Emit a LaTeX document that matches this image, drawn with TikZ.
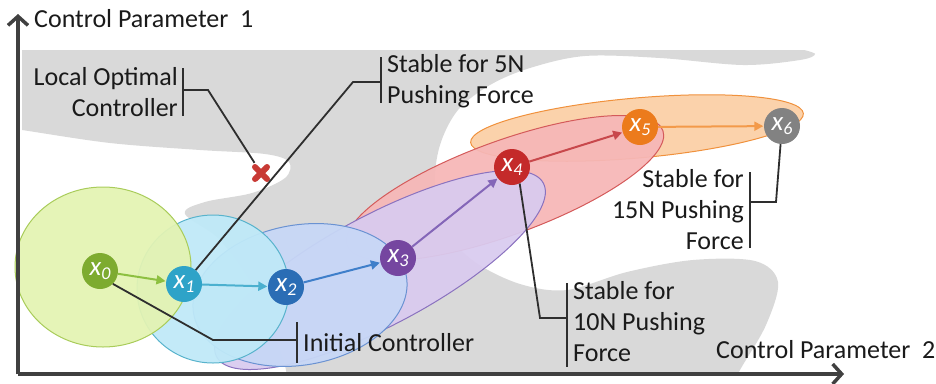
\documentclass[tikz,border=0pt]{standalone}
\usepackage{fontspec}
\setmainfont{Carlito}
\usetikzlibrary{arrows.meta}
\definecolor{bggray}{HTML}{D9D9D9}
\definecolor{axisgray}{HTML}{404040}
\definecolor{txt}{HTML}{1A1A1A}
\definecolor{n0}{HTML}{7DAB2F}\definecolor{a0}{HTML}{8DC040}
\definecolor{n1}{HTML}{2EA3C8}\definecolor{a1}{HTML}{4BB0CF}
\definecolor{n2}{HTML}{2A6DB5}\definecolor{a2}{HTML}{3F7FCA}
\definecolor{n3}{HTML}{7546A0}\definecolor{a3}{HTML}{8466B8}
\definecolor{n4}{HTML}{C42A2A}\definecolor{a4}{HTML}{C8484C}
\definecolor{n5}{HTML}{EC7B1C}\definecolor{a5}{HTML}{F39A4A}
\definecolor{n6}{HTML}{828282}
\definecolor{fG}{HTML}{E3F3B3}\definecolor{dG}{HTML}{A9CC5A}
\definecolor{fC}{HTML}{BFE9F8}\definecolor{dC}{HTML}{58B3CC}
\definecolor{fB}{HTML}{C7D7F6}\definecolor{dB}{HTML}{6A92D2}
\definecolor{fP}{HTML}{D9CBEF}\definecolor{dP}{HTML}{8A72BF}
\definecolor{fR}{HTML}{F6B7B7}\definecolor{dR}{HTML}{D45A5A}
\definecolor{fO}{HTML}{FBCFA6}\definecolor{dO}{HTML}{F0913C}
\definecolor{xred}{HTML}{C83A35}
\newcommand{\xsub}[1]{x\raisebox{-4.5pt}{\fontsize{18}{18}\selectfont #1}}
\begin{document}
\begin{tikzpicture}[x=1pt,y=-1pt,
  lbl/.style={font=\fontsize{26}{31}\selectfont, inner sep=0pt, text=txt},
  brk/.style={line width=1.8pt, draw=black!82},
  xnode/.style={circle, minimum size=36pt, inner sep=0pt, text=white, font=\fontsize{27}{27}\selectfont\itshape},
  ell/.style={line width=1pt, fill opacity=0.94},
  flow/.style={line width=2pt, -{Triangle[length=9pt,width=9pt]}, shorten >=0.5pt},
  axisline/.style={line width=3.5pt, draw=axisgray, -{Straight Barb[length=9pt,width=20pt]}},
  xmark/.style={line width=6pt, line cap=round, draw=xred}]
\useasboundingbox (0,0) rectangle (936,383);

% gray background regions
\begin{scope}
\clip (22,50) rectangle (936,373);
\fill[bggray] (0,30) -- (800,30) -- plot[smooth,tension=0.55] coordinates {(800,49) (815,54) (800,60) (743,65) (660,58) (585,56) (530,68) (490,85) (458,110) (440,145) (435,185) (445,230) (475,262) (520,284) (567,290) (627,272) (693,260) (755,261) (778,282) (766,325) (740,370) (728,395)} -- (300,395) -- plot[smooth,tension=0.55] coordinates {(290,395) (282,355) (255,290) (220,240) (185,214) (205,202) (252,193) (285,178) (289,162) (265,154) (200,150) (110,143) (22,130) (0,127)} -- cycle;
\end{scope}

% regions of stability
\filldraw[ell, fill=fO, draw=dO, rotate around={5:(637,128)}] (637,128) ellipse [x radius=167pt, y radius=30pt];
\filldraw[ell, fill=fR, draw=dR, rotate around={20:(505,188)}] (505,188) ellipse [x radius=168pt, y radius=47pt];
\filldraw[ell, fill=fP, draw=dP, rotate around={28:(380,270)}] (380,270) ellipse [x radius=185pt, y radius=55pt];
\filldraw[ell, fill=fB, draw=dB, rotate around={10:(300,295)}] (300,295) ellipse [x radius=108pt, y radius=70pt];
\filldraw[ell, fill=fC, draw=dC] (213,289) ellipse [x radius=76pt, y radius=74pt];
\filldraw[ell, fill=fG, draw=dG] (103,267) ellipse [x radius=88pt, y radius=80pt];

% controller nodes
\node[xnode, fill=n0] (x0) at (100,271) {\xsub{0}};
\node[xnode, fill=n1] (x1) at (184,284) {\xsub{1}};
\node[xnode, fill=n2] (x2) at (286,287) {\xsub{2}};
\node[xnode, fill=n3] (x3) at (398,258) {\xsub{3}};
\node[xnode, fill=n4] (x4) at (512,167) {\xsub{4}};
\node[xnode, fill=n5] (x5) at (640,127) {\xsub{5}};
\node[xnode, fill=n6] (x6) at (782,126) {\xsub{6}};

% local optimum mark
\node[minimum size=20pt, inner sep=0pt] (xm) at (261,173) {};
\draw[xmark] (255,167) -- (267,179) (267,167) -- (255,179);

% labels
\node[lbl, anchor=east, align=right] (lo) at (178,92) {Local Optimal\\Controller};
\node[lbl, anchor=west, align=left] (s5) at (387,81) {Stable for 5N\\Pushing Force};
\node[lbl, anchor=west] (ic) at (303,343) {Initial Controller};
\node[lbl, anchor=west, align=left] (s10) at (573,322) {Stable for\\10N Pushing\\Force};
\node[lbl, anchor=east, align=right] (s15) at (744,210) {Stable for\\15N Pushing\\Force};
\node[lbl, anchor=west] (cp1) at (34,19) {Control Parameter \ 1};
\node[lbl, anchor=west] (cp2) at (716,350) {Control Parameter \ 2};

% callout brackets and leaders
\coordinate (loT) at (183,68); \coordinate (loB) at (183,116); \coordinate (loM) at (183,90); \coordinate (loK) at (208,90);
\draw[brk] (loT) -- (loB); \draw[brk] (loM) -- (loK) -- (xm);
\coordinate (s5T) at (381,57); \coordinate (s5B) at (381,103); \coordinate (s5M) at (381,82); \coordinate (s5K) at (353,82);
\draw[brk] (s5T) -- (s5B); \draw[brk] (s5M) -- (s5K) -- (x1);
\coordinate (icT) at (297,322); \coordinate (icB) at (297,363); \coordinate (icM) at (297,340); \coordinate (icK) at (213,340);
\draw[brk] (icT) -- (icB); \draw[brk] (icM) -- (icK) -- (x0.-45);
\coordinate (tT) at (567,283); \coordinate (tB) at (567,367); \coordinate (tM) at (567,318); \coordinate (tK) at (540,318);
\draw[brk] (tT) -- (tB); \draw[brk] (tM) -- (tK) -- (x4.-65);
\coordinate (fT) at (750,172); \coordinate (fB) at (750,248); \coordinate (fM) at (750,202); \coordinate (fK) at (776,202);
\draw[brk] (fT) -- (fB); \draw[brk] (fM) -- (fK) -- (x6);

% transitions
\draw[flow, draw=a0, fill=a0] (x0) -- (x1);
\draw[flow, draw=a1, fill=a1] (x1) -- (x2);
\draw[flow, draw=a2, fill=a2] (x2) -- (x3);
\draw[flow, draw=a3, fill=a3] (x3) -- (x4);
\draw[flow, draw=a4, fill=a4] (x4) -- (x5);
\draw[flow, draw=a5, fill=a5] (x5) -- (x6);

% axes
\coordinate (orig) at (18,374);
\coordinate (ytip) at (18,14);
\coordinate (xtip) at (844,374);
\draw[axisline] (orig) -- (ytip);
\draw[axisline] (orig) -- (xtip);
\end{tikzpicture}
\end{document}
